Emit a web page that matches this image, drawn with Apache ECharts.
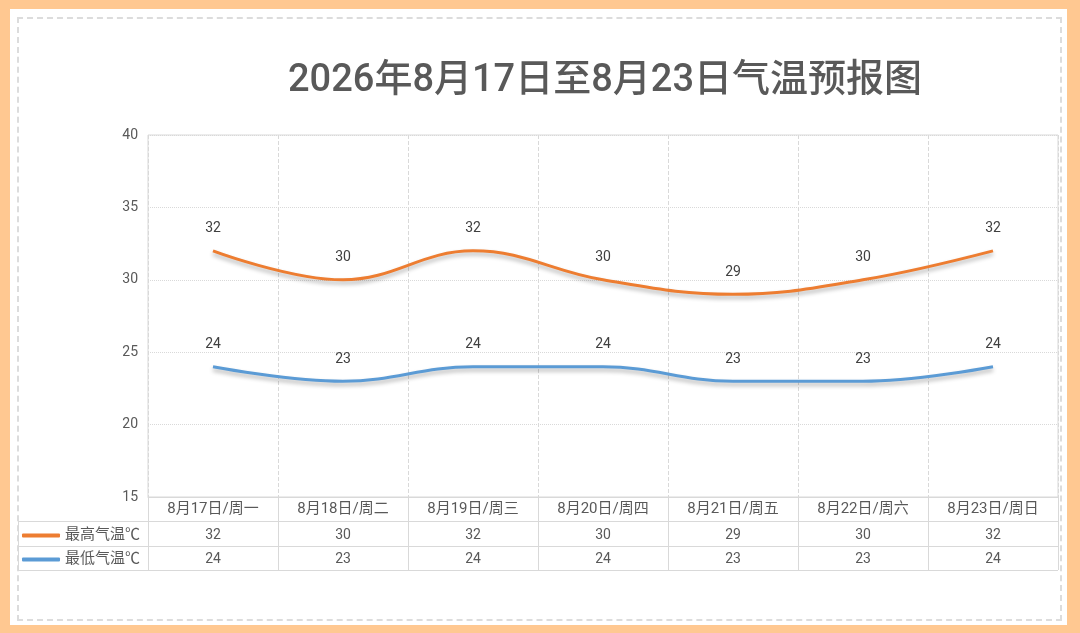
<!DOCTYPE html>
<html>
<head>
<meta charset="utf-8">
<script src="https://cdn.jsdelivr.net/npm/echarts@6/dist/echarts.min.js"></script>
<style>
  html, body { margin: 0; padding: 0; background: #ffc891; }
  #frame { position: absolute; left: 10px; top: 9px; width: 1057px; height: 616px; background: #fff; }
  #dash { position: absolute; left: 17px; top: 17px; width: 1041px; height: 600px; border: 2px dashed #dcdcdc; }
  #main { position: absolute; left: 0; top: 0; width: 1080px; height: 633px; }
</style>
</head>
<body>
<div id="frame"></div>
<div id="dash"></div>
<div id="main"></div>
<script>
  var categories = ['8月17日/周一', '8月18日/周二', '8月19日/周三', '8月20日/周四', '8月21日/周五', '8月22日/周六', '8月23日/周日'];
  var highTemps = [32, 30, 32, 30, 29, 30, 32];
  var lowTemps = [24, 23, 24, 24, 23, 23, 24];
  var seriesNames = ['最高气温℃', '最低气温℃'];
  var yTicks = { min: 15, max: 40, step: 5 };

  var lineCol = '#d9d9d9';
  var txt = '#595959';

  function valueAxis(values, off) {
    return {
      type: 'category', position: 'bottom', offset: off,
      data: values.map(String),
      axisLine: { show: false }, axisTick: { show: false }, splitLine: { show: false },
      axisLabel: { margin: 7, color: txt, fontSize: 14 }
    };
  }

  function line(name, data, color) {
    return {
      name: name, type: 'line', data: data,
      smooth: 0.4, symbol: 'circle', symbolSize: 0,
      lineStyle: { width: 3, color: color, shadowColor: 'rgba(0,0,0,0.3)', shadowBlur: 4, shadowOffsetY: 3 },
      itemStyle: { color: color },
      label: { show: true, position: 'top', distance: 15, color: '#404040', fontSize: 14 }
    };
  }

  var chart = echarts.init(document.getElementById('main'));
  chart.setOption({
    animation: false,
    textStyle: { fontFamily: 'Roboto, "Noto Sans CJK SC"' },
    title: {
      text: '2026年8月17日至8月23日气温预报图',
      left: 283, top: 57,
      textStyle: { fontSize: 38, fontWeight: 500, color: txt }
    },
    legend: {
      orient: 'vertical', left: 17, top: 523, itemGap: 9,
      icon: 'roundRect', itemWidth: 38, itemHeight: 4,
      textStyle: { fontSize: 15, color: txt, lineHeight: 15 },
      data: seriesNames
    },
    grid: { left: 148, right: 22, top: 135, bottom: 136, show: true, borderColor: lineCol, borderWidth: 1 },
    xAxis: [
      {
        type: 'category', data: categories, boundaryGap: true,
        axisLine: { lineStyle: { color: lineCol } },
        axisTick: { show: true, length: 73, lineStyle: { color: lineCol } },
        axisLabel: { margin: 5, color: txt, fontSize: 15 },
        splitLine: { show: true, lineStyle: { type: 'dashed', color: lineCol } }
      },
      valueAxis(highTemps, 24),
      valueAxis(lowTemps, 48)
    ],
    yAxis: {
      type: 'value', min: yTicks.min, max: yTicks.max, interval: yTicks.step,
      axisLine: { show: false }, axisTick: { show: false },
      axisLabel: { margin: 10, color: txt, fontSize: 14 },
      splitLine: { lineStyle: { type: 'dotted', color: lineCol } }
    },
    graphic: [
      { type: 'line', shape: { x1: 18, y1: 521.5, x2: 1058, y2: 521.5 }, style: { stroke: lineCol, lineWidth: 1 } },
      { type: 'line', shape: { x1: 18, y1: 546.5, x2: 1058, y2: 546.5 }, style: { stroke: lineCol, lineWidth: 1 } },
      { type: 'line', shape: { x1: 18, y1: 570.5, x2: 1058, y2: 570.5 }, style: { stroke: lineCol, lineWidth: 1 } },
      { type: 'line', shape: { x1: 18.5, y1: 521, x2: 18.5, y2: 571 }, style: { stroke: lineCol, lineWidth: 1 } }
    ],
    series: [
      line(seriesNames[0], highTemps, '#ed7d31'),
      line(seriesNames[1], lowTemps, '#5b9bd5')
    ]
  });
</script>
</body>
</html>
